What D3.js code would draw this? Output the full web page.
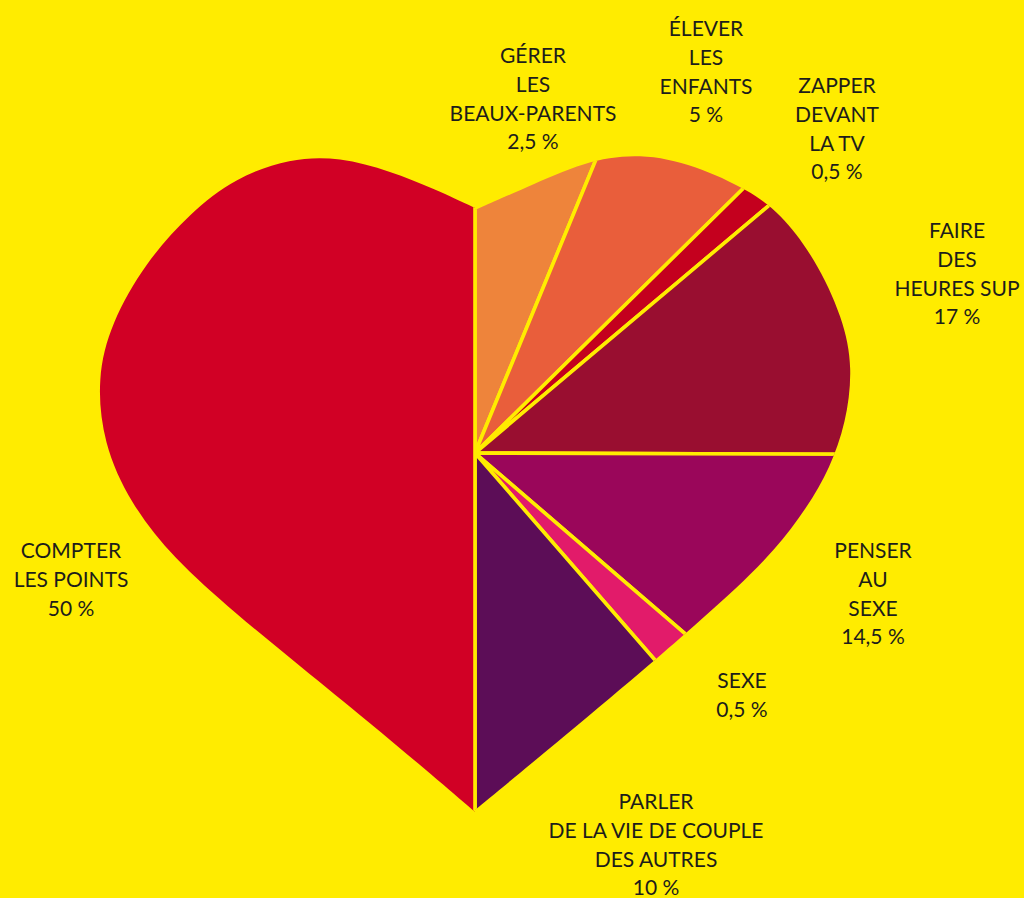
<!DOCTYPE html>
<html>
<head>
<meta charset="utf-8">
<script src="https://cdn.jsdelivr.net/npm/d3@7"></script>
<style>
  body { margin: 0; background: #ffec00; }
  svg { display: block; }
</style>
</head>
<body>
<svg id="chart"></svg>
<script>
// data: right half clockwise from the top, then the big left half
const categories = ["gerer", "elever", "zapper", "faire", "penser", "sexe", "parler", "compter"];
const shares = [2.5, 5, 0.5, 17, 14.5, 0.5, 10, 50];
const labelLines = [
  ["GÉRER", "LES", "BEAUX-PARENTS"],
  ["ÉLEVER", "LES", "ENFANTS"],
  ["ZAPPER", "DEVANT", "LA TV"],
  ["FAIRE", "DES", "HEURES SUP"],
  ["PENSER", "AU", "SEXE"],
  ["SEXE"],
  ["PARLER", "DE LA VIE DE COUPLE", "DES AUTRES"],
  ["COMPTER", "LES POINTS"]
];

// styles
const colors = ["#ee843b", "#e95e3b", "#c4001e", "#990e30", "#9a065a", "#e21b6a", "#5c0d57", "#d10025"];
const yellow = "#ffec00";

var width = 1024, height = 898;
var cx = 475, cy = 453;

var svg = d3.select("#chart")
    .attr("width", width)
    .attr("height", height);

svg.append("rect")
    .attr("width", width)
    .attr("height", height)
    .attr("fill", yellow);

//
// heart outline (control points), relative to the centre point of the pie
var leftLobe = [[0,-245],[-40,-264],[-85,-282],[-135,-296],[-185,-295],[-240,-275],[-285,-240],
    [-330,-190],[-364,-130],[-378,-75],[-372,-10],[-345,50],[-302,105],[-240,160],
    [-175,213],[-105,270],[-50,316],[0,359]];
var rightLobe = [[0,-243],[50,-265],[110,-292],[165,-300],[220,-288],[275,-262],[305,-240],
    [340,-195],[368,-135],[378,-85],[371,-30],[355,15],[332,55],[300,97],[262,135],
    [220,172],[180,207],[91,282],[0,357]];

var outline = d3.line().curve(d3.curveBasis);

var defs = svg.append("defs");
var clip = defs.append("clipPath").attr("id", "heart");
clip.append("path").attr("d", outline(leftLobe) + "Z");
clip.append("path").attr("d", outline(rightLobe) + "Z");

//
// pie layout, then the drawn angles follow the picture's uneven wedges
var pie = d3.pie().sort(null).value(d => d);
var cum = [0, ...d3.cumsum(shares)];
var angleOf = d3.scaleLinear()
    .domain(cum)
    .range([0, 22.4, 45.4, 49.9, 90.2, 130.7, 139, 180, 360].map(d => d * Math.PI / 180));

var slices = pie(shares).map((p, i) => {
    var a0 = angleOf(p.startAngle / (2 * Math.PI) * 100);
    var a1 = angleOf(p.endAngle / (2 * Math.PI) * 100);
    return {startAngle: a0, endAngle: a1, index: i};
});

var color = d3.scaleOrdinal().domain(categories).range(colors);
var arc = d3.arc().innerRadius(0).outerRadius(700);

svg.append("g")
    .attr("clip-path", "url(#heart)")
    .attr("transform", "translate(" + cx + "," + cy + ")")
  .selectAll("path")
    .data(slices)
    .enter()
    .append("path")
    .attr("d", arc)
    .attr("fill", d => color(categories[d.index]))
    .attr("stroke", yellow)
    .attr("stroke-width", 3.6)
    .attr("stroke-linejoin", "miter");

//
// labels
var fr = d3.formatLocale({decimal: ",", thousands: " ", grouping: [3], currency: ["", " €"]});
var fmt = fr.format("~g");

// anchor of each label block (centre x, first baseline)
var labelAt = [[533, 63], [706, 36], [837, 93], [957, 238], [873, 558], [742, 688], [656, 809], [71, 558]];
var lineH = 28.8;

var labels = svg.append("g")
    .attr("font-family", "Lato, 'Open Sans', sans-serif")
    .attr("font-size", 21)
    .attr("fill", "#1d1d1b")
    .attr("text-anchor", "middle");

labels.selectAll("text")
    .data(categories)
    .enter()
    .append("text")
    .attr("x", (d, i) => labelAt[i][0])
    .attr("y", (d, i) => labelAt[i][1])
    .each(function(d, i) {
        var t = d3.select(this);
        var lines = labelLines[i].concat([fmt(shares[i]) + " %"]);
        lines.forEach((s, j) => {
            t.append("tspan")
                .attr("x", labelAt[i][0])
                .attr("dy", j === 0 ? 0 : lineH)
                .text(s);
        });
    });
</script>
</body>
</html>
